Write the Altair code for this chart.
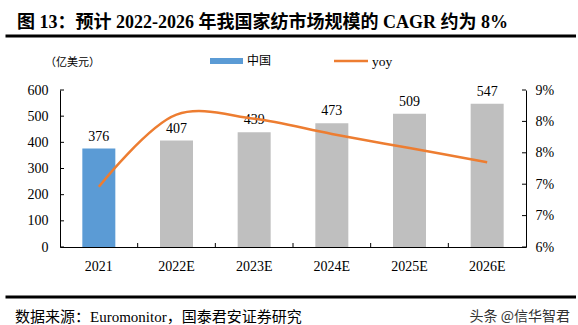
import altair as alt
import pandas as pd

# ---------------- data ----------------
categories = ["2021", "2022E", "2023E", "2024E", "2025E", "2026E"]
market = [376, 407, 439, 473, 509, 547]
yoy = [0.0715, 0.0853, 0.0845, 0.0816, 0.0789, 0.0762]
left_ticks = [0, 100, 200, 300, 400, 500, 600]
right_ticks = [0.06, 0.066, 0.072, 0.078, 0.084, 0.09]
x_boundaries = categories[1:]

title_text = "图 13：预计 2022-2026 年我国家纺市场规模的 CAGR 约为 8%"
unit_text = "（亿美元）"
legend_bar = "中国"
legend_line = "yoy"
source_text = "数据来源：Euromonitor，国泰君安证券研究"
watermark_text = "头条 @信华智君"

df = pd.DataFrame({"year": categories, "market": market, "yoy": yoy})

SERIF = "Liberation Serif, Noto Sans CJK SC"
CJK = "Noto Sans CJK SC"
BLUE = "#5B9BD5"
GREY = "#BFBFBF"
ORANGE = "#ED7D31"

W, H = 466, 157

x_enc = alt.X(
    "year:N", sort=categories,
    scale=alt.Scale(paddingInner=0, paddingOuter=0),
    axis=alt.Axis(title=None, labelAngle=0, ticks=False, labelPadding=12,
                  labelFont=SERIF, labelFontSize=14, labelColor="#000",
                  domainColor="#000", domainWidth=1, grid=False),
)
y_left = alt.Y(
    "market:Q", scale=alt.Scale(domain=[0, 600]),
    axis=alt.Axis(title=None, values=left_ticks, ticks=False, labelPadding=12,
                  labelFont=SERIF, labelFontSize=14, labelColor="#000",
                  domainColor="#000", grid=False),
)
y_right = alt.Y(
    "yoy:Q", scale=alt.Scale(domain=[0.06, 0.09]),
    axis=alt.Axis(title=None, orient="right", values=right_ticks, format=".0%",
                  ticks=False, labelPadding=9, labelFont=SERIF, labelFontSize=14,
                  labelColor="#000", domainColor="#000", grid=False),
)

base = alt.Chart(df)

bars = base.mark_bar(size=33).encode(
    x=x_enc,
    y=y_left,
    color=alt.condition(alt.datum.year == "2021", alt.value(BLUE), alt.value(GREY)),
)
bar_labels = base.mark_text(font=SERIF, fontSize=14, color="#000", dy=-8,
                            baseline="alphabetic").encode(
    x=alt.X("year:N", sort=categories), y=y_left, text="market:Q"
)
left_tick_marks = alt.Chart(pd.DataFrame({"market": left_ticks})).mark_rule(
    color="#000", strokeWidth=1).encode(y=y_left, x=alt.value(0), x2=alt.value(4))
x_tick_marks = alt.Chart(pd.DataFrame({"year": x_boundaries})).mark_rule(
    color="#000", strokeWidth=1).encode(
    x=alt.X("year:N", sort=categories, bandPosition=0),
    y=alt.value(H - 4), y2=alt.value(H))

bar_group = alt.layer(bars, bar_labels, left_tick_marks, x_tick_marks)

line = base.mark_line(color=ORANGE, strokeWidth=2.5, interpolate="catmull-rom").encode(
    x=alt.X("year:N", sort=categories), y=y_right
)
right_tick_marks = alt.Chart(pd.DataFrame({"yoy": right_ticks})).mark_rule(
    color="#000", strokeWidth=1).encode(y=y_right, x=alt.value(W - 4), x2=alt.value(W))

line_group = alt.layer(line, right_tick_marks)

one = pd.DataFrame({"a": [0]})


def txt(text, x, y, **kw):
    return alt.Chart(one).mark_text(text=text, **kw).encode(x=alt.value(x), y=alt.value(y))


annots = [
    txt(title_text, -43, -67, font=SERIF, fontSize=18, fontWeight="bold",
        align="left", baseline="middle", color="#000"),
    alt.Chart(one).mark_rule(color="#000", strokeWidth=3).encode(
        x=alt.value(-54.5), x2=alt.value(516), y=alt.value(-54)),
    txt(unit_text, -15, -27, font=CJK, fontSize=11, align="left",
        baseline="middle", color="#000"),
    alt.Chart(one).mark_rect(color=BLUE).encode(
        x=alt.value(150), x2=alt.value(183), y=alt.value(-32), y2=alt.value(-26)),
    txt(legend_bar, 187, -29, font=CJK, fontSize=12, align="left",
        baseline="middle", color="#000"),
    alt.Chart(one).mark_rule(color=ORANGE, strokeWidth=2.5).encode(
        x=alt.value(274), x2=alt.value(308), y=alt.value(-29)),
    txt(legend_line, 312, -28, font=SERIF, fontSize=13.5, align="left",
        baseline="middle", color="#000"),
    alt.Chart(one).mark_rule(color="#000", strokeWidth=3).encode(
        x=alt.value(-54.5), x2=alt.value(516), y=alt.value(207)),
    txt(source_text, -45, 227, font=SERIF, fontSize=15, align="left",
        baseline="middle", color="#000"),
    txt(watermark_text, 510, 227, font=CJK, fontSize=14, align="right",
        baseline="middle", color="#333"),
]

chart = alt.layer(bar_group, line_group, *annots).resolve_scale(
    y="independent"
).properties(
    width=W, height=H,
    padding={"left": 60, "top": 90, "right": 52, "bottom": 78},
    autosize=alt.AutoSizeParams(type="none"),
    background="white",
).configure_view(stroke=None)

chart.save("out.html", embed_options={"renderer": "svg", "actions": False})
